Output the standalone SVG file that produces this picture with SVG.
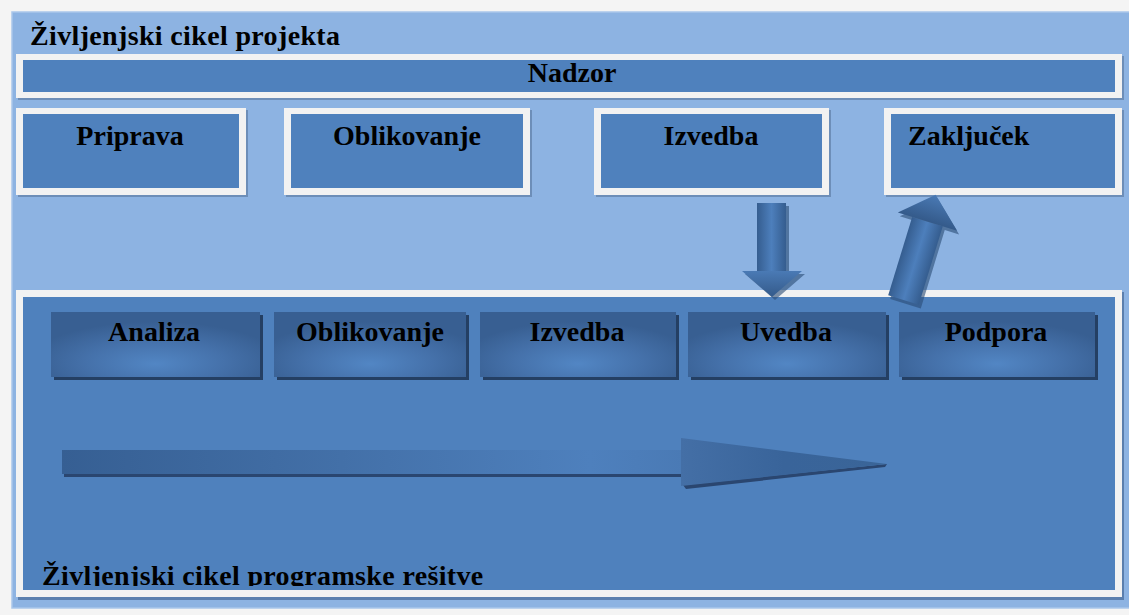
<svg xmlns="http://www.w3.org/2000/svg" width="1129" height="615" viewBox="0 0 1129 615">
  <defs>
    <style>
      .lbl { font-family: "Liberation Serif", "Times New Roman", serif; font-weight: bold; font-size: 28px; fill: #000; }
      .mid { text-anchor: middle; }
      .wide { letter-spacing: 0.35px; }
      .frame { fill: #f2f2f2; }
      .panel { fill: #4f81bd; }
      .step { fill: url(#stepGrad); }
      .stepShadow { fill: #243f63; }
      .boxShadow { fill: #5f7fa6; opacity: 0.7; }
      .arrowShadow { fill: #2a4b75; opacity: 0.6; }
    </style>
    <radialGradient id="stepGrad" cx="50%" cy="75%" r="60%" fx="50%" fy="80%">
      <stop offset="0" stop-color="#5286c4"/>
      <stop offset="0.55" stop-color="#4571aa"/>
      <stop offset="1" stop-color="#385f92"/>
    </radialGradient>
    <linearGradient id="shaftV" x1="0" y1="0" x2="1" y2="0">
      <stop offset="0" stop-color="#355d8f"/>
      <stop offset="0.5" stop-color="#4d7fbc"/>
      <stop offset="1" stop-color="#355d8f"/>
    </linearGradient>
    <linearGradient id="headV" x1="0" y1="0" x2="0" y2="1">
      <stop offset="0" stop-color="#4a7ab5"/>
      <stop offset="1" stop-color="#345a8a"/>
    </linearGradient>
    <linearGradient id="shaftH" x1="62" y1="0" x2="683" y2="0" gradientUnits="userSpaceOnUse">
      <stop offset="0" stop-color="#365f93"/>
      <stop offset="0.45" stop-color="#4370a8"/>
      <stop offset="0.85" stop-color="#4e80bd"/>
      <stop offset="1" stop-color="#4a7ab5"/>
    </linearGradient>
    <linearGradient id="headH" x1="681" y1="0" x2="887" y2="0" gradientUnits="userSpaceOnUse">
      <stop offset="0" stop-color="#446fa6"/>
      <stop offset="0.5" stop-color="#39649a"/>
      <stop offset="1" stop-color="#3a6598"/>
    </linearGradient>
  </defs>

  <!-- page and outer project frame -->
  <rect x="0" y="0" width="1129" height="615" fill="#f4f4f4"/>
  <rect x="12" y="12" width="1122" height="596" fill="#8db3e2" stroke="#a9c6ea" stroke-width="1.5"/>
  <text class="lbl wide" x="30" y="45">Življenjski cikel projekta</text>

  <!-- supervision bar -->
  <g id="nadzor">
    <rect class="boxShadow" x="18" y="56" width="1106" height="44"/>
    <rect class="frame" x="16" y="54" width="1106" height="44"/>
    <rect class="panel" x="23" y="60" width="1092" height="32"/>
    <text class="lbl mid" x="572" y="82">Nadzor</text>
  </g>

  <!-- project phases -->
  <g id="priprava">
    <rect class="boxShadow" x="18" y="110" width="230" height="87"/>
    <rect class="frame" x="16" y="108" width="230" height="87"/>
    <rect class="panel" x="23" y="114" width="216" height="74"/>
    <text class="lbl mid" x="130" y="145">Priprava</text>
  </g>
  <g id="oblikovanje">
    <rect class="boxShadow" x="286" y="110" width="246" height="87"/>
    <rect class="frame" x="284" y="108" width="246" height="87"/>
    <rect class="panel" x="291" y="114" width="232" height="74"/>
    <text class="lbl mid" x="407" y="145">Oblikovanje</text>
  </g>
  <g id="izvedba">
    <rect class="boxShadow" x="596" y="110" width="235" height="87"/>
    <rect class="frame" x="594" y="108" width="235" height="87"/>
    <rect class="panel" x="601" y="114" width="221" height="74"/>
    <text class="lbl mid" x="711" y="145">Izvedba</text>
  </g>
  <g id="zakljucek">
    <rect class="boxShadow" x="886" y="110" width="238" height="87"/>
    <rect class="frame" x="884" y="108" width="238" height="87"/>
    <rect class="panel" x="891" y="114" width="224" height="74"/>
    <text class="lbl" x="908" y="145">Zaključek</text>
  </g>

  <!-- software life cycle panel -->
  <g id="programska-resitev">
    <rect x="18" y="292" width="1106" height="308" fill="#5b7fae"/>
    <rect class="frame" x="16" y="290" width="1106" height="307"/>
    <rect class="panel" x="23" y="297" width="1092" height="293"/>
    <svg x="23" y="297" width="1092" height="289" overflow="hidden">
      <text class="lbl wide" x="19" y="288">Življenjski cikel programske rešitve</text>
    </svg>
  </g>

  <!-- software phases -->
  <g id="analiza">
    <rect class="stepShadow" x="54" y="315" width="209" height="65"/>
    <rect class="step" x="51" y="312" width="209" height="65"/>
    <text class="lbl mid" x="154" y="341">Analiza</text>
  </g>
  <g id="oblikovanje-sw">
    <rect class="stepShadow" x="277" y="315" width="192" height="65"/>
    <rect class="step" x="274" y="312" width="192" height="65"/>
    <text class="lbl mid" x="370" y="341">Oblikovanje</text>
  </g>
  <g id="izvedba-sw">
    <rect class="stepShadow" x="483" y="315" width="196" height="65"/>
    <rect class="step" x="480" y="312" width="196" height="65"/>
    <text class="lbl mid" x="577" y="341">Izvedba</text>
  </g>
  <g id="uvedba">
    <rect class="stepShadow" x="691" y="315" width="198" height="65"/>
    <rect class="step" x="688" y="312" width="198" height="65"/>
    <text class="lbl mid" x="786" y="341">Uvedba</text>
  </g>
  <g id="podpora">
    <rect class="stepShadow" x="902" y="315" width="196" height="65"/>
    <rect class="step" x="899" y="312" width="196" height="65"/>
    <text class="lbl mid" x="996" y="341">Podpora</text>
  </g>

  <!-- connectors -->
  <g id="connectors">
    <!-- Izvedba down into Uvedba -->
    <g id="arrow-down">
      <polygon class="arrowShadow" points="760,206 789,206 789,274 805,274 775,300 745,274 760,274"/>
      <rect x="757" y="203" width="29" height="70" fill="url(#shaftV)"/>
      <polygon points="742,271 802,271 772,297" fill="url(#headV)"/>
    </g>
    <!-- Podpora up into Zaključek -->
    <g id="arrow-up" transform="translate(903.5,300) rotate(17)">
      <polygon class="arrowShadow" points="-13,3 19,3 19,-79 34,-79 3,-107 -28,-79 -13,-79"/>
      <rect x="-16" y="-82" width="32" height="82" fill="url(#shaftV)"/>
      <polygon points="-31,-82 31,-82 0,-110" fill="url(#headV)"/>
    </g>
    <!-- overall flow arrow -->
    <g id="arrow-flow">
      <polygon points="64,474 683,474 683,477 64,477" fill="#2a4670"/>
      <polygon points="683,485 887,464 885,467 686,489" fill="#2a4670"/>
      <rect x="62" y="450" width="621" height="24" fill="url(#shaftH)"/>
      <polygon points="681,438 887,464 681,486" fill="url(#headH)"/>
    </g>
  </g>
</svg>
